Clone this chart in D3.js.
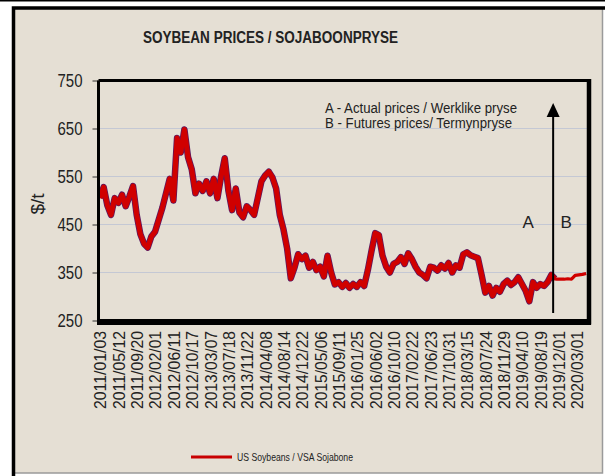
<!DOCTYPE html>
<html>
<head>
<meta charset="utf-8">
<script src="https://cdn.jsdelivr.net/npm/d3@7"></script>
<style>
  body { margin: 0; background: #fff; }
  svg text { font-family: "Liberation Sans", Arial, sans-serif; fill: #222; }
</style>
</head>
<body>
<svg width="605" height="476"></svg>
<script>
// x labels (category axis, one label every ~90 trading days)
var xLabels = ["2011/01/03", "2011/05/12", "2011/09/20", "2012/02/01", "2012/06/11", "2012/10/17",
    "2013/03/07", "2013/07/18", "2013/11/22", "2014/04/08", "2014/08/14", "2014/12/22",
    "2015/05/06", "2015/09/11", "2016/01/25", "2016/06/02", "2016/10/10", "2017/02/22",
    "2017/06/23", "2017/10/31", "2018/03/15", "2018/07/24", "2018/11/29", "2019/04/10",
    "2019/08/19", "2019/12/01", "2020/03/01"];

var yTicks = [250, 350, 450, 550, 650, 750];

// actual prices, read every 0.2 label steps starting at 2011/01/03
var actualPrices = [
    505, 528, 490, 470, 505, 495, 512, 488, 508, 530,
    470, 430, 410, 402, 425, 435, 460, 485, 515, 545,
    500, 630, 600, 648, 590, 565, 515, 535, 520, 540,
    515, 545, 505, 550, 588, 520, 480, 525, 475, 465,
    488, 480, 470, 505, 540, 552, 560, 548, 525, 470,
    440, 400, 338, 360, 388, 378, 385, 360, 372, 355,
    362, 342, 385, 350, 325, 330, 320, 328, 318, 326,
    320, 330, 322, 355, 395, 432, 428, 385, 362, 350,
    368, 372, 382, 368, 390, 378, 362, 350, 345, 338,
    362, 360, 354, 365, 358, 370, 350, 365, 360, 388,
    392, 386, 383, 380, 345, 308, 322, 302, 318, 310,
    326, 333, 324, 330, 340, 326, 312, 290, 330, 318,
    326, 322, 330, 345, 337];

// futures prices, every 0.2 label steps starting at the split
var futuresPrices = [337, 336, 336, 336, 337, 336, 344, 345, 346, 348];
var futuresStart = 24.7;

var legendLabel = "US Soybeans / VSA Sojabone";

var svg = d3.select("svg");

// squeeze text to a narrow look
function narrow(sel, w) {
    return sel.attr("textLength", w).attr("lengthAdjust", "spacingAndGlyphs");
}

// outer frame
svg.append("line").attr("x1", 0).attr("x2", 605).attr("y1", 0.8).attr("y2", 0.8)
    .attr("stroke", "#000").attr("stroke-width", 1.6);
svg.append("rect").attr("x", 13.5).attr("y", 8).attr("width", 589).attr("height", 465)
    .attr("fill", "#e5dfd4").attr("stroke", "#9a9a9a").attr("stroke-width", 1.5);
svg.append("path").attr("d", "M13.5,476V8H605")
    .attr("fill", "none").attr("stroke", "#000").attr("stroke-width", 3.5);

var x = d3.scaleLinear().domain([0, 26.6]).range([100, 588]);
var y = d3.scaleLinear().domain([250, 750]).range([320.5, 80.5]);

// gridlines
svg.append("g").selectAll("line")
    .data(yTicks.filter(function (d) { return d > 250 && d < 750 }))
    .enter().append("line")
    .attr("x1", x(0)).attr("x2", x(26.6))
    .attr("y1", function (d) { return y(d) }).attr("y2", function (d) { return y(d) })
    .attr("stroke", "#c4c8d4").attr("stroke-width", 1);

// y axis
var yAxis = svg.append("g").attr("transform", "translate(98.5,0)")
    .call(d3.axisLeft(y).tickValues(yTicks).tickSize(6).tickPadding(10).tickFormat(d3.format("d")));
yAxis.select(".domain").remove();
yAxis.selectAll("line").attr("stroke", "#333");
narrow(yAxis.selectAll("text").style("font-size", "19px").attr("fill", "#222"), 25);

// x axis labels
var xAxis = svg.append("g").attr("transform", "translate(0,323)")
    .call(d3.axisBottom(x).tickValues(d3.range(xLabels.length)).tickSize(0)
        .tickFormat(function (i) { return xLabels[i] }));
xAxis.select(".domain").remove();
narrow(xAxis.selectAll("text")
    .style("font-size", "16.5px")
    .attr("fill", "#222")
    .attr("text-anchor", "end")
    .attr("transform", "rotate(-90)")
    .attr("x", -8).attr("y", 0).attr("dy", "0.36em"), 78);

// series
var actual = actualPrices.map(function (v, i) { return [i * 0.2, v] });
var futures = futuresPrices.map(function (v, i) { return [futuresStart + i * 0.2, v] });
futures.unshift(actual[actual.length - 1]);

var line = d3.line()
    .x(function (d) { return x(d[0]) })
    .y(function (d) { return y(d[1]) })
    .curve(d3.curveLinear);

svg.append("path").datum(actual).attr("d", line)
    .attr("fill", "none").attr("stroke", "#5a1860").attr("stroke-width", 6.5).attr("stroke-linejoin", "round");
svg.append("path").datum(actual).attr("d", line)
    .attr("fill", "none").attr("stroke", "#d00000").attr("stroke-width", 5).attr("stroke-linejoin", "round");
svg.append("path").datum(futures).attr("d", line)
    .attr("fill", "none").attr("stroke", "#d00000").attr("stroke-width", 3.2).attr("stroke-linejoin", "round");

// plot frame
svg.append("path").attr("d", "M" + (x(0) - 1.5) + "," + y(750) + "H" + (x(26.6) + 1))
    .attr("stroke", "#000").attr("stroke-width", 3);
svg.append("path").attr("d", "M" + (x(0) - 1.5) + "," + y(750) + "V" + (y(250) + 1.5))
    .attr("stroke", "#000").attr("stroke-width", 3);
svg.append("path").attr("d", "M" + (x(26.6) + 1) + "," + (y(750) - 1.5) + "V" + (y(250) + 4))
    .attr("stroke", "#000").attr("stroke-width", 4.5);
svg.append("path").attr("d", "M" + (x(0) - 3) + "," + (y(250) + 1.5) + "H" + (x(26.6) + 3))
    .attr("stroke", "#000").attr("stroke-width", 6);

// split arrow A | B
var ax = x(futuresStart);
svg.append("line").attr("x1", ax).attr("x2", ax).attr("y1", 313).attr("y2", 112)
    .attr("stroke", "#000").attr("stroke-width", 2);
svg.append("path")
    .attr("d", "M" + ax + ",103L" + (ax - 6.5) + ",117L" + (ax + 6.5) + ",117Z")
    .attr("fill", "#000");
svg.append("text").attr("x", ax - 25).attr("y", 228).attr("text-anchor", "middle")
    .style("font-size", "17px").text("A");
svg.append("text").attr("x", ax + 13).attr("y", 228).attr("text-anchor", "middle")
    .style("font-size", "17px").text("B");

narrow(svg.append("text").attr("x", 325).attr("y", 112.5).style("font-size", "14px")
    .text("A - Actual prices / Werklike pryse"), 192);
narrow(svg.append("text").attr("x", 325).attr("y", 128).style("font-size", "14px")
    .text("B - Futures prices/ Termynpryse"), 187);

// title
narrow(svg.append("text").attr("x", 143).attr("y", 43)
    .style("font-size", "16px").style("font-weight", "bold").attr("fill", "#111")
    .text("SOYBEAN PRICES / SOJABOONPRYSE"), 255);

// y label
svg.append("text").attr("transform", "translate(44,204) rotate(-90)")
    .attr("text-anchor", "middle").style("font-size", "19px").text("$/t");

// legend
svg.append("line").attr("x1", 191).attr("x2", 232).attr("y1", 457).attr("y2", 457)
    .attr("stroke", "#c80000").attr("stroke-width", 3);
narrow(svg.append("text").attr("x", 237).attr("y", 461).style("font-size", "11.5px")
    .text(legendLabel), 116);
</script>
</body>
</html>
